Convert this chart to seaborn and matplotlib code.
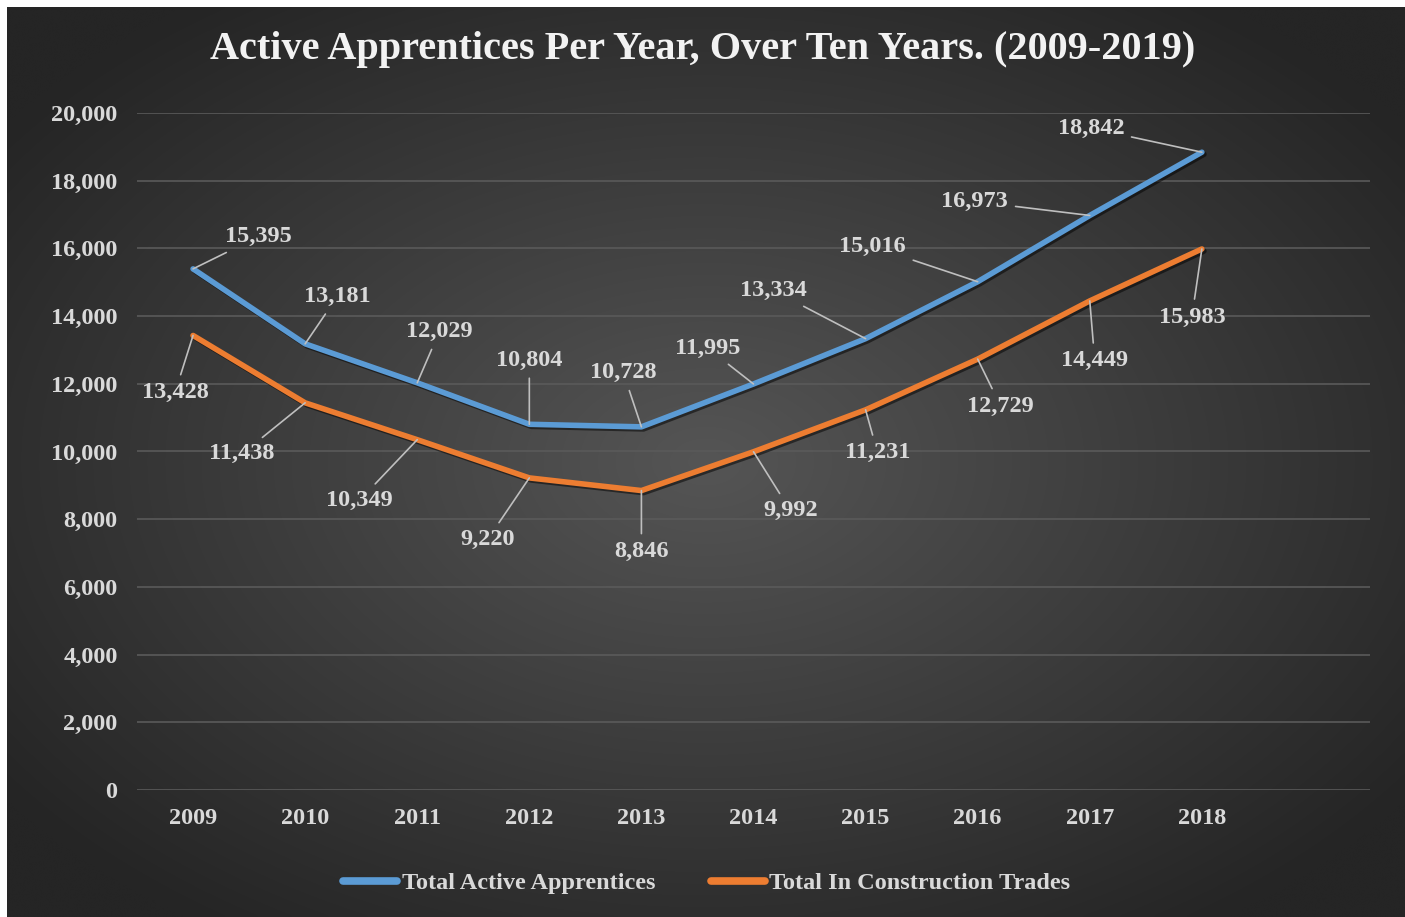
import numpy as np
import pandas as pd
import matplotlib
matplotlib.use("Agg")
import matplotlib.pyplot as plt
import matplotlib.patheffects as pe
from matplotlib.lines import Line2D
import seaborn as sns

# ---- data ----
years = ["2009", "2010", "2011", "2012", "2013", "2014", "2015", "2016", "2017", "2018"]
total_active = [15395, 13181, 12029, 10804, 10728, 11995, 13334, 15016, 16973, 18842]
total_construction = [13428, 11438, 10349, 9220, 8846, 9992, 11231, 12729, 14449, 15983]
series_names = ["Total Active Apprentices", "Total In Construction Trades"]
y_ticks = [0, 2000, 4000, 6000, 8000, 10000, 12000, 14000, 16000, 18000, 20000]
title = "Active Apprentices Per Year, Over Ten Years. (2009-2019)"

# label offsets (pixels) for data labels
blue_offsets = [(65, 32), (32, 47), (22, 51), (0, 64), (-18, 54), (-46, 36),
                (-92, 48), (-105, 35), (-115, 14), (-111, 24)]
orange_offsets = [(-18, -57), (-63, -51), (-58, -61), (-42, -62), (0, -61),
                  (37, -59), (12, -43), (23, -47), (5, -60), (-10, -68)]

sns.set_theme(style="white")
plt.rcParams['font.family'] = ['Liberation Serif', 'DejaVu Serif']
plt.rcParams['font.weight'] = 'bold'

W, H = 1405, 917
fig = plt.figure(figsize=(W / 100, H / 100), dpi=100)
fig.patch.set_facecolor("white")

# background radial gradient
bg = fig.add_axes([7 / W, 0, 1 - 7 / W, 1 - 7 / H])
yy, xx = np.mgrid[0:1:300j, 0:1:450j]
d = np.sqrt(((xx - 0.5) / 0.62) ** 2 + ((yy - 0.5) / 0.62) ** 2)
d = np.clip(d, 0, 1)
c0 = np.array([0x55, 0x55, 0x55]) / 255
c1 = np.array([0x25, 0x25, 0x25]) / 255
img = c0[None, None, :] * (1 - d[..., None]) + c1[None, None, :] * d[..., None]
bg.imshow(img, aspect="auto", extent=[0, 1, 0, 1], interpolation="bicubic")
bg.set_axis_off()
bg.set_zorder(-10)

ax = fig.add_axes([137 / W, 1 - 790 / H, (1370 - 137) / W, (790 - 113) / H])
ax.patch.set_alpha(0)

df = pd.DataFrame({
    "x": list(range(len(years))) * 2,
    "value": total_active + total_construction,
    "series": [series_names[0]] * len(years) + [series_names[1]] * len(years),
})
colors = {series_names[0]: "#5B9BD5", series_names[1]: "#ED7D31"}
sns.lineplot(data=df, x="x", y="value", hue="series", palette=colors, ax=ax,
             linewidth=4.0, legend=False, zorder=5)
for ln in ax.lines:
    ln.set_solid_capstyle("round")
    ln.set_path_effects([pe.SimpleLineShadow(offset=(1.5, -1.5), shadow_color="black", alpha=0.5),
                         pe.Normal()])

ax.set_xlim(-0.5, 10.5)
ax.set_ylim(0, 20000)
ax.set_yticks(y_ticks)
ax.set_yticklabels([f"{v:,}" for v in y_ticks])
ax.set_xticks(range(len(years)))
ax.set_xticklabels(years)
ax.set_xlabel("")
ax.set_ylabel("")
ax.grid(axis="y", color="#5a5a5a", linewidth=1.2)
ax.grid(axis="x", visible=False)
for s in ax.spines.values():
    s.set_visible(False)
ax.tick_params(axis="y", length=0, pad=14, labelsize=17.5, labelcolor="#d9d9d9")
ax.tick_params(axis="x", length=0, pad=13, labelsize=17.5, labelcolor="#d9d9d9")

txtkw = dict(fontsize=17.5, color="#d9d9d9", fontweight="bold", ha="center", va="center",
             textcoords="offset pixels", zorder=6)
arrow = dict(arrowstyle="-", color="#bfbfbf", lw=1.2, shrinkA=3, shrinkB=0)
for i, v in enumerate(total_active):
    ax.annotate(f"{v:,}", xy=(i, v), xytext=blue_offsets[i], arrowprops=arrow, **txtkw)
for i, v in enumerate(total_construction):
    ax.annotate(f"{v:,}", xy=(i, v), xytext=orange_offsets[i], arrowprops=arrow, **txtkw)

fig.text(703 / W, 1 - 50 / H, title, ha="center", va="center", fontsize=29,
         fontweight="bold", color="#f2f2f2")

handles = [Line2D([0], [0], color=colors[n], lw=5.5, solid_capstyle="round") for n in series_names]
leg = fig.legend(handles, series_names, loc="center", bbox_to_anchor=(707 / W, 1 - 883 / H),
                 ncol=2, frameon=False, fontsize=17.5, handlelength=2.2, handletextpad=0.2,
                 columnspacing=2.3)
for t in leg.get_texts():
    t.set_color("#d9d9d9")
    t.set_fontweight("bold")

fig.savefig("out.png", dpi=100, facecolor=fig.get_facecolor())
